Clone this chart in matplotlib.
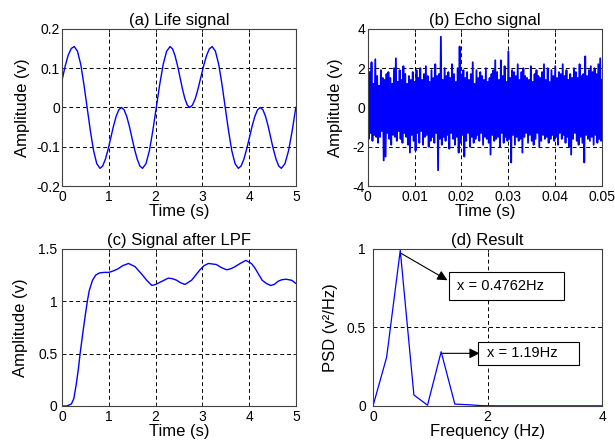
import matplotlib
matplotlib.use("Agg")
import matplotlib.pyplot as plt
from matplotlib.patches import Rectangle

plt.rcParams['font.family'] = ['Liberation Sans', 'DejaVu Sans']
plt.rcParams['axes.unicode_minus'] = False

# ---------------- data ----------------
life_t = [0, 0.065, 0.13, 0.195,
          0.26, 0.329, 0.398, 0.466, 0.535, 0.604, 0.673, 0.741,
          0.81, 0.868, 0.925, 0.983, 1.04, 1.098, 1.155, 1.213,
          1.27, 1.326, 1.383, 1.439, 1.495, 1.551, 1.608, 1.664,
          1.72, 1.794, 1.868, 1.941, 2.015, 2.089, 2.163, 2.236,
          2.31, 2.363, 2.415, 2.468, 2.52, 2.573, 2.625, 2.678,
          2.73, 2.79, 2.85, 2.91, 2.97, 3.03, 3.09, 3.15,
          3.21, 3.28, 3.35, 3.42, 3.49, 3.56, 3.63, 3.70,
          3.77, 3.829, 3.888, 3.946, 4.005, 4.064, 4.123, 4.181,
          4.24, 4.296, 4.353, 4.409, 4.465, 4.521, 4.578, 4.634,
          4.69, 4.768, 4.845, 4.923, 5.0]
life_y = [0.07, 0.105, 0.133, 0.150,
          0.155, 0.143, 0.110, 0.059, 0.0, -0.059, -0.110, -0.143,
          -0.155, -0.149, -0.132, -0.107, -0.078, -0.048, -0.023, -0.006,
          0.0, -0.006, -0.023, -0.048, -0.078, -0.107, -0.132, -0.149,
          -0.155, -0.143, -0.110, -0.059, 0.0, 0.059, 0.110, 0.143,
          0.155, 0.149, 0.132, 0.107, 0.078, 0.048, 0.023, 0.006,
          0.0, 0.006, 0.023, 0.048, 0.078, 0.107, 0.132, 0.149,
          0.155, 0.143, 0.110, 0.059, 0.0, -0.059, -0.110, -0.143,
          -0.155, -0.149, -0.132, -0.107, -0.078, -0.048, -0.023, -0.006,
          0.0, -0.006, -0.023, -0.048, -0.078, -0.107, -0.132, -0.149,
          -0.155, -0.143, -0.110, -0.059, 0.0]

echo_dt = 0.0002
echo_y = [0.3, -1.6, 1.8, -1.3, 2.3, -1.7, 1.2, -1.4, 2.45, -1.5,
          1.6, -1.8, 1.1, -1.5, 1.9, -1.2, 1.5, -2.7, 1.4, -2.5,
          1.7, -1.3, 1.8, -1.6, 1.5, -1.9, 1.2, -1.4, 2.0, -1.5,
          2.5, -1.7, 1.3, -1.2, 1.9, -1.6, 1.4, -1.8, 2.1, -1.3,
          1.7, -1.5, 1.2, -1.9, 1.6, -2.3, 1.4, -1.4, 1.8, -1.7,
          1.3, -2.2, 1.9, -1.3, 1.5, -1.8, 2.0, -1.2, 1.4, -1.9,
          1.7, -1.5, 2.1, -1.4, 1.6, -2.0, 1.3, -1.7, 1.9, -1.5,
          1.5, -1.8, 2.2, -1.3, 1.6, -3.2, 1.7, -1.6, 3.6, -1.9,
          1.4, -1.5, 2.0, -1.7, 1.6, -1.4, 1.8, -2.1, 1.5, -1.3,
          2.2, -1.6, 1.7, -1.9, 1.3, -1.5, 2.0, -2.3, 3.1, -1.8,
          1.6, -1.4, 1.9, -2.5, 1.5, -1.7, 1.8, -1.3, 1.4, -2.0,
          1.7, -1.5, 2.3, -1.8, 1.2, -1.6, 1.9, -1.4, 1.5, -1.7,
          1.8, -1.3, 1.6, -1.9, 1.4, -1.5, 2.0, -1.6, 1.3, -1.8,
          1.5, -2.4, 1.7, -1.4, 1.9, -1.7, 2.4, -1.6, 1.8, -1.5,
          1.4, -2.0, 2.4, -1.3, 1.6, -1.8, 2.1, -1.5, 1.3, -1.7,
          2.85, -1.6, 1.5, -2.8, 1.9, -1.4, 1.8, -1.9, 1.6, -1.5,
          2.2, -1.7, 1.4, -1.6, 1.8, -2.3, 2.0, -1.5, 1.6, -1.3,
          1.5, -1.8, 1.4, -1.4, 2.1, -1.7, 1.3, -1.9, 1.7, -1.6,
          1.9, -1.3, 1.6, -2.0, 1.5, -1.7, 1.8, -1.4, 2.2, -1.6,
          1.4, -1.5, 2.0, -1.8, 1.3, -1.6, 1.9, -1.4, 1.6, -1.7,
          2.1, -1.5, 1.5, -1.9, 1.8, -1.3, 1.7, -1.6, 2.2, -1.4,
          1.6, -1.8, 1.9, -1.5, 1.4, -2.0, 1.7, -2.4, 1.5, -1.6,
          2.0, -1.3, 1.8, -1.7, 1.5, -1.9, 2.2, -1.5, 1.6, -1.8,
          1.7, -2.8, 2.6, -1.4, 1.6, -1.6, 1.9, -1.7, 2.1, -1.5,
          1.8, -1.9, 2.0, -1.4, 1.7, -1.8, 2.2, -1.6, 2.5, -1.7,
          1.4]
echo_t = [i * echo_dt for i in range(len(echo_y))]

lpf_t = [0, 0.1, 0.2, 0.25, 0.3, 0.35, 0.385, 0.45, 0.5, 0.54,
         0.58, 0.65, 0.72, 0.8, 0.9, 1.0, 1.1, 1.2, 1.3, 1.42,
         1.56, 1.7, 1.81, 1.92, 2.0, 2.09, 2.18, 2.27, 2.36, 2.45,
         2.54, 2.63, 2.7, 2.77, 2.86, 2.95, 3.04, 3.13, 3.22, 3.3,
         3.41, 3.52, 3.61, 3.7, 3.81, 3.93, 4.05, 4.12, 4.2, 4.28,
         4.37, 4.46, 4.54, 4.62, 4.7, 4.79, 4.91, 5.0]
lpf_y = [0, 0.0, 0.02, 0.07, 0.2, 0.36, 0.5, 0.72, 0.88, 1.0,
         1.1, 1.2, 1.25, 1.27, 1.275, 1.275, 1.29, 1.31, 1.34, 1.36,
         1.33, 1.26, 1.2, 1.15, 1.16, 1.18, 1.20, 1.22, 1.215, 1.20,
         1.175, 1.16, 1.18, 1.2, 1.25, 1.30, 1.34, 1.36, 1.355, 1.35,
         1.32, 1.30, 1.31, 1.33, 1.36, 1.39, 1.36, 1.32, 1.26, 1.2,
         1.17, 1.15, 1.16, 1.19, 1.205, 1.21, 1.2, 1.17]

psd_f = [0, 0.238, 0.476, 0.714, 0.952, 1.190, 1.429, 1.667, 1.905, 2.143,
         2.381, 2.619, 2.857, 3.095, 3.333, 3.571, 3.810, 4.048]
psd_y = [0.0, 0.31, 0.99, 0.07, 0.005, 0.345, 0.012, 0.008, 0.002, 0.001,
         0.001, 0.001, 0.001, 0.001, 0.001, 0.001, 0.001, 0.001]

peak1 = (0.4762, 0.99)
peak2 = (1.19, 0.345)
label1 = "x = 0.4762Hz"
label2 = "x = 1.19Hz"

a_xticks = [0, 1, 2, 3, 4, 5]
a_yticks = [-0.2, -0.1, 0, 0.1, 0.2]
a_yticklabels = ['-0.2', '-0.1', '0', '0.1', '0.2']
b_xticks = [0, 0.01, 0.02, 0.03, 0.04, 0.05]
b_xticklabels = ['0', '0.01', '0.02', '0.03', '0.04', '0.05']
b_yticks = [-4, -2, 0, 2, 4]
c_yticks = [0, 0.5, 1, 1.5]
c_yticklabels = ['0', '0.5', '1', '1.5']
d_xticks = [0, 2, 4]
d_yticks = [0, 0.5, 1]
d_yticklabels = ['0', '0.5', '1']

# ---------------- figure ----------------
fig = plt.figure(figsize=(6.15, 4.44), dpi=100)
BLUE = '#0000ff'
TFS = 12
LFS = 12
KFS = 10


def style(ax, ypad):
    for s in ax.spines.values():
        s.set_color('#404040')
        s.set_linewidth(0.8)
        s.set_zorder(4)
    ax.tick_params(direction='in', length=2.5, width=0.7, top=True, right=True,
                   labelsize=KFS, colors='#202020', labelcolor='black')
    ax.tick_params(axis='y', pad=ypad)
    ax.tick_params(axis='x', pad=3)
    ax.grid(True, color='black', linestyle=(0, (4, 3)), linewidth=0.7)
    ax.set_axisbelow(False)


# (a)
ax = fig.add_axes([0.101, 0.581, 0.380, 0.354])
ax.plot(life_t, life_y, color=BLUE, lw=1.0, zorder=3)
ax.set_xlim(0, 5)
ax.set_ylim(-0.2, 0.2)
ax.set_xticks(a_xticks)
ax.set_yticks(a_yticks)
ax.set_yticklabels(a_yticklabels)
style(ax, 1.5)
ax.set_title('(a) Life signal', fontsize=TFS, pad=3)
ax.set_xlabel('Time (s)', fontsize=LFS, labelpad=0)
ax.set_ylabel('Amplitude (v)', fontsize=LFS, labelpad=4)

# (b)
ax = fig.add_axes([0.598, 0.581, 0.381, 0.354])
ax.plot(echo_t, echo_y, color=BLUE, lw=1.3, zorder=3)
ax.set_xlim(0, 0.05)
ax.set_ylim(-4, 4)
ax.set_xticks(b_xticks)
ax.set_xticklabels(b_xticklabels)
ax.set_yticks(b_yticks)
style(ax, 2)
ax.set_title('(b) Echo signal', fontsize=TFS, pad=3)
ax.set_xlabel('Time (s)', fontsize=LFS, labelpad=0)
ax.set_ylabel('Amplitude (v)', fontsize=LFS, labelpad=7)

# (c)
ax = fig.add_axes([0.101, 0.0856, 0.380, 0.354])
ax.plot(lpf_t, lpf_y, color=BLUE, lw=1.0, zorder=3)
ax.set_xlim(0, 5)
ax.set_ylim(0, 1.5)
ax.set_xticks(a_xticks)
ax.set_yticks(c_yticks)
ax.set_yticklabels(c_yticklabels)
style(ax, 3.5)
ax.set_title('(c) Signal after LPF', fontsize=TFS, pad=3)
ax.set_xlabel('Time (s)', fontsize=LFS, labelpad=0)
ax.set_ylabel('Amplitude (v)', fontsize=LFS, labelpad=7)

# (d)
ax = fig.add_axes([0.6065, 0.0856, 0.3725, 0.354])
ax.plot(psd_f, psd_y, color=BLUE, lw=0.9, zorder=3)
ax.set_xlim(0, 4)
ax.set_ylim(0, 1)
ax.set_xticks(d_xticks)
ax.set_yticks(d_yticks)
ax.set_yticklabels(d_yticklabels)
style(ax, 5)
ax.set_title('(d) Result', fontsize=TFS, pad=3)
ax.set_xlabel('Frequency (Hz)', fontsize=LFS, labelpad=0)
ax.set_ylabel('PSD (v²/Hz)', fontsize=LFS, labelpad=6)

# annotation boxes
ax.add_patch(Rectangle((1.32, 0.677), 2.01, 0.173, facecolor='white',
                       edgecolor='black', lw=0.8, zorder=5))
ax.text(1.46, 0.763, label1, fontsize=10.5, va='center', ha='left', zorder=6)
ax.add_patch(Rectangle((1.84, 0.26), 1.75, 0.15, facecolor='white',
                       edgecolor='black', lw=0.8, zorder=5))
ax.text(1.99, 0.335, label2, fontsize=10.5, va='center', ha='left', zorder=6)
ax.annotate('', xy=(1.30, 0.80), xytext=(peak1[0] + 0.02, peak1[1] - 0.02),
            arrowprops=dict(arrowstyle='-|>', color='black', lw=0.8,
                            mutation_scale=15, shrinkA=0, shrinkB=0), zorder=7)
ax.annotate('', xy=(1.86, peak2[1] - 0.01), xytext=(peak2[0] + 0.02, peak2[1] - 0.01),
            arrowprops=dict(arrowstyle='-|>', color='black', lw=0.8,
                            mutation_scale=15, shrinkA=0, shrinkB=0), zorder=7)

fig.savefig('out.png', dpi=100, facecolor='white')
